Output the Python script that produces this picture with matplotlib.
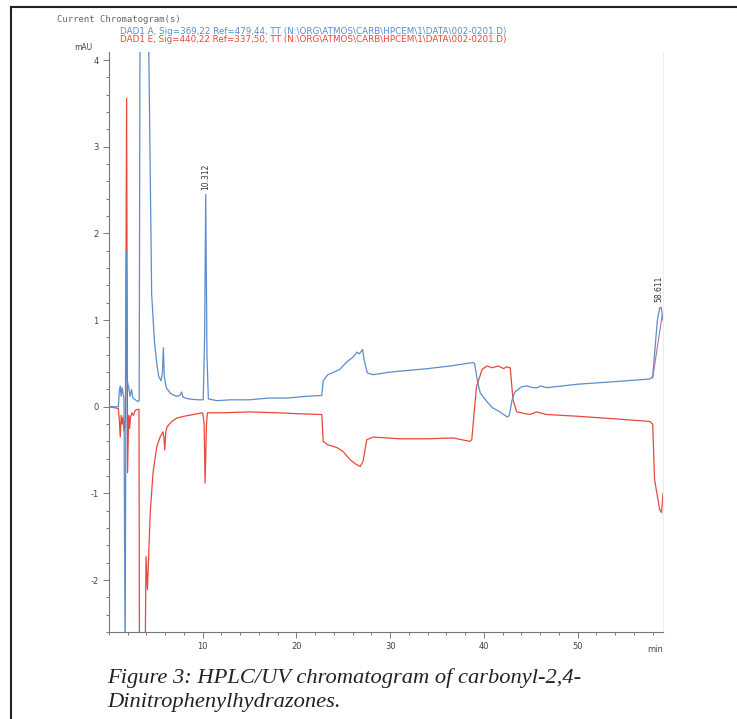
import matplotlib
matplotlib.use("Agg")
import matplotlib.pyplot as plt
from matplotlib.lines import Line2D
from matplotlib.ticker import MultipleLocator

plt.rcParams["axes.unicode_minus"] = False

# DAD1 A trace (min, mAU)
blue_t = [0, 1.0, 1.1, 1.2, 1.3, 1.4, 1.5, 1.6, 1.72, 1.85, 1.95, 2.1, 2.25, 2.4, 2.55, 2.8, 3.1, 3.22,
          3.32, 4.15, 4.55, 4.85, 5.1, 5.3, 5.55, 5.7, 5.8, 5.9, 6.1, 6.6, 7.2, 7.55, 7.75, 7.9, 8.5, 9.5,
          10.05, 10.2, 10.32, 10.45, 10.6, 11.5, 13, 15, 17, 19, 21, 22.7, 22.85, 23.35, 24.0, 24.6, 25.4,
          26.0, 26.45, 26.7, 27.05, 27.2, 27.55, 28.2, 30, 32, 34, 36.4, 38.8, 39.0, 39.3, 39.6, 40.3, 40.9,
          41.7, 42.5, 42.7, 43.0, 43.3, 44.0, 44.6, 45.2, 45.7, 46.0, 46.7, 50, 54, 57.7, 58.0, 58.5, 58.75,
          58.9, 59.1]
blue_v = [0, 0.0, 0.18, 0.24, 0.12, 0.22, 0.15, 0.1, -3.0, 1.8, 0.3, 0.22, 0.12, 0.2, 0.1, 0.08, 0.06, 0.07,
          5.0, 5.0, 1.3, 0.75, 0.5, 0.35, 0.3, 0.4, 0.68, 0.35, 0.22, 0.15, 0.12, 0.13, 0.17, 0.11, 0.09, 0.08,
          0.08, 0.8, 2.45, 0.6, 0.09, 0.07, 0.08, 0.08, 0.1, 0.1, 0.12, 0.13, 0.3, 0.37, 0.4, 0.43, 0.52,
          0.57, 0.63, 0.61, 0.66, 0.55, 0.39, 0.37, 0.4, 0.42, 0.44, 0.47, 0.51, 0.5, 0.3, 0.16, 0.06, -0.01,
          -0.06, -0.12, -0.1, 0.08, 0.17, 0.23, 0.24, 0.22, 0.22, 0.24, 0.22, 0.26, 0.29, 0.32, 0.35, 1.0, 1.14,
          1.15, 1.0]

# DAD1 E trace (min, mAU)
red_t = [0, 1.0, 1.1, 1.2, 1.3, 1.4, 1.5, 1.6, 1.75, 1.88, 1.98, 2.1, 2.2, 2.3, 2.45, 2.6, 2.8, 3.1, 3.2,
         3.25, 3.85, 3.95, 4.1, 4.4, 4.7, 5.1, 5.45, 5.75, 5.85, 5.95, 6.05, 6.2, 6.7, 7.25, 8.0, 9.0, 10.0,
         10.15, 10.25, 10.4, 10.5, 12, 15, 18, 20, 22.7, 22.85, 23.35, 24.3, 25.0, 25.7, 26.3, 26.8, 27.1,
         27.5, 28.2, 31, 34, 36.7, 38.5, 38.7, 39.2, 39.8, 40.3, 40.9, 41.5, 42.1, 42.4, 42.8, 43.1, 43.5,
         44.9, 45.6, 46.7, 50, 54, 57.7, 58.0, 58.2, 58.75, 58.95, 59.1]
red_v = [0, -0.02, -0.15, -0.35, -0.1, -0.2, -0.12, -0.28, -0.15, 3.56, -0.76, -0.1, -0.25, -0.12, -0.07,
         -0.1, -0.04, -0.03, -0.03, -3.0, -3.0, -1.73, -2.11, -1.22, -0.76, -0.46, -0.35, -0.29, -0.35, -0.5,
         -0.3, -0.23, -0.17, -0.13, -0.11, -0.09, -0.07, -0.2, -0.88, -0.2, -0.07, -0.07, -0.06, -0.07, -0.08,
         -0.09, -0.4, -0.44, -0.47, -0.52, -0.61, -0.66, -0.69, -0.63, -0.38, -0.35, -0.37, -0.37, -0.36,
         -0.4, -0.38, 0.23, 0.43, 0.47, 0.45, 0.47, 0.44, 0.46, 0.45, 0.08, -0.06, -0.09, -0.06, -0.09, -0.11,
         -0.14, -0.17, -0.2, -0.84, -1.19, -1.22, -1.0]

# integration baseline under the last peak
base_t = [58.0, 59.0]
base_v = [0.33, 1.05]

peak_t = [10.312, 58.611]
peak_v = [2.45, 1.16]
peak_lbl = ["10.312", "58.611"]

BLUE = "#5b8dcc"
RED = "#e8473c"

fig = plt.figure(figsize=(7.37, 7.19), dpi=100)
ax = fig.add_axes([109/737, 1-632/719, 554/737, 580.5/719])

ax.plot(red_t, red_v, color=RED, lw=0.9)
ax.plot(blue_t, blue_v, color=BLUE, lw=0.9)
ax.plot(base_t, base_v, color="#b070b0", lw=0.8)
for t, v, s in zip(peak_t, peak_v, peak_lbl):
    ax.text(t, v + 0.05, s, rotation=90, ha="center", va="bottom", fontsize=5.5, color="#333")

ax.set_xlim(0, 59.1)
ax.set_ylim(-2.6, 4.1)
ax.xaxis.set_major_locator(MultipleLocator(10))
ax.xaxis.set_minor_locator(MultipleLocator(2))
ax.yaxis.set_major_locator(MultipleLocator(1))
ax.yaxis.set_minor_locator(MultipleLocator(0.2))
ax.set_xticks([10, 20, 30, 40, 50])
ax.tick_params(which="both", colors="#666", labelcolor="#444", labelsize=6, width=0.6)
ax.tick_params(which="major", length=4)
ax.tick_params(which="minor", length=2.5)
ax.spines["top"].set_visible(False)
ax.spines["right"].set_color("#eeeedd")
ax.spines["left"].set_color("#777")
ax.spines["bottom"].set_color("#777")
ax.spines["left"].set_linewidth(0.8)
ax.spines["bottom"].set_linewidth(0.8)
ax.text(-0.03, 1.0, "mAU", transform=ax.transAxes, ha="right", va="bottom", fontsize=5.5, color="#444")
ax.text(1.0, -0.022, "min", transform=ax.transAxes, ha="right", va="top", fontsize=6, color="#444")

fig.text(57/737, 1-20/719, "Current Chromatogram(s)", family="DejaVu Sans Mono", fontsize=6.5,
         color="#666", va="center")
fig.text(120/737, 1-31/719,
         "DAD1 A, Sig=369,22 Ref=479,44, TT (N:\\ORG\\ATMOS\\CARB\\HPCEM\\1\\DATA\\002-0201.D)",
         family="DejaVu Sans", fontsize=6.3, color=BLUE, va="center")
fig.text(120/737, 1-40/719,
         "DAD1 E, Sig=440,22 Ref=337,50, TT (N:\\ORG\\ATMOS\\CARB\\HPCEM\\1\\DATA\\002-0201.D)",
         family="DejaVu Sans", fontsize=6.3, color=RED, va="center")

fig.text(107/737, 1-678/719, "Figure 3: HPLC/UV chromatogram of carbonyl-2,4-",
         family="Liberation Serif", style="italic", fontsize=16.2, color="#222", va="center")
fig.text(107/737, 1-703/719, "Dinitrophenylhydrazones.",
         family="Liberation Serif", style="italic", fontsize=16.2, color="#222", va="center")

# page frame
fig.add_artist(Line2D([11/737, 11/737], [0, 1-7/719], color="#222", lw=1.5))
fig.add_artist(Line2D([11/737, 1], [1-7/719, 1-7/719], color="#222", lw=1.5))

fig.savefig("out.png", dpi=100)
